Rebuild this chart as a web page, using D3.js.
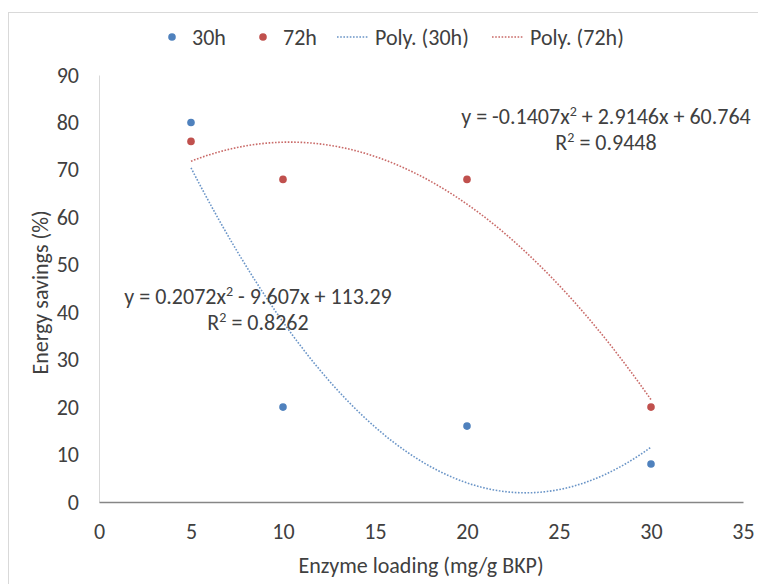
<!DOCTYPE html>
<html>
<head>
<meta charset="utf-8">
<script src="https://cdn.jsdelivr.net/npm/d3@7"></script>
<style>
  html, body { margin: 0; padding: 0; background: #fff; }
  svg { display: block; }
  text { font-family: Carlito, Calibri, "Open Sans", "Noto Sans", sans-serif; fill: #404040; }
</style>
</head>
<body>
<svg id="chart" width="758" height="584"></svg>
<script>
// Enzyme loading (mg/g BKP)
const loading = [5, 10, 20, 30];
// Energy savings (%) per hydrolysis time
const savings30h = [80, 20, 16, 8];
const savings72h = [76, 68, 68, 20];
// Quadratic trendline coefficients [a, b, c] for y = a x^2 + b x + c
const poly30h = [0.2072, -9.607, 113.29];
const poly72h = [-0.1407, 2.9146, 60.764];
const r2_30h = "0.8262";
const r2_72h = "0.9448";
// Axis ticks
const xTicks = [0, 5, 10, 15, 20, 25, 30, 35];
const yTicks = [0, 10, 20, 30, 40, 50, 60, 70, 80, 90];

const blue = "#4F81BD", red = "#C0504D";
const FONT = "Carlito, Calibri, 'Open Sans', 'Noto Sans', sans-serif";
const FS = "22px";

const svg = d3.select("#chart");
const x = d3.scaleLinear().domain([0, 35]).range([99, 743]);
const y = d3.scaleLinear().domain([0, 90]).range([502, 75]);

// chart frame
svg.append("rect").attr("x", 8.5).attr("y", 12.5).attr("width", 800).attr("height", 700)
  .attr("fill", "none").attr("stroke", "#d9d9d9").attr("stroke-width", 1);

// y axis
const yAxis = svg.append("g").attr("transform", `translate(${x(0)},0)`)
  .call(d3.axisLeft(y).tickValues(yTicks).tickSize(0).tickPadding(20));
yAxis.select(".domain").attr("stroke", "#d9d9d9").attr("stroke-width", 1);
yAxis.selectAll("text").style("font-size", FS).style("font-family", FONT).attr("fill", "#404040");

// x axis
const xAxis = svg.append("g").attr("transform", `translate(0,${y(0)})`)
  .call(d3.axisBottom(x).tickValues(xTicks).tickSize(0).tickPadding(21));
xAxis.select(".domain").attr("stroke", "#868686").attr("stroke-width", 1.5);
xAxis.selectAll("text").style("font-size", FS).style("font-family", FONT).attr("fill", "#404040");

// axis titles
svg.append("text").attr("x", x(17.5)).attr("y", 573).attr("text-anchor", "middle")
  .style("font-size", FS).text("Enzyme loading (mg/g BKP)");
svg.append("text").attr("transform", `translate(48,${y(45) + 4}) rotate(-90)`)
  .attr("text-anchor", "middle").style("font-size", FS).text("Energy savings (%)");

// trendlines from the stated coefficients, across the data range
function curve(coef) {
  const xs = d3.range(loading[0], loading[loading.length - 1] + 0.001, 0.25);
  return xs.map(v => [v, coef[0] * v * v + coef[1] * v + coef[2]]);
}
const line = d3.line().x(d => x(d[0])).y(d => y(d[1]));
[[poly30h, blue], [poly72h, red]].forEach(([coef, col]) => {
  svg.append("path").attr("d", line(curve(coef))).attr("fill", "none")
    .attr("stroke", col).attr("stroke-width", 1.6).attr("stroke-dasharray", "1.6 1.6")
    .attr("opacity", 0.85);
});

// data points
[[savings30h, blue], [savings72h, red]].forEach(([vals, col]) => {
  svg.append("g").selectAll("circle").data(loading.map((v, i) => [v, vals[i]]))
    .join("circle").attr("cx", d => x(d[0])).attr("cy", d => y(d[1])).attr("r", 3.8)
    .attr("fill", col);
});

// trendline equations
const fmt = v => (v < 0 ? "- " : "+ ") + Math.abs(v);
function equation(cx, cy, coef, r2) {
  const t = svg.append("text").attr("x", cx).attr("y", cy).attr("text-anchor", "middle")
    .style("font-size", FS).attr("fill", "#000");
  t.append("tspan").text("y = " + coef[0] + "x");
  t.append("tspan").attr("dy", -8).style("font-size", "14px").text("2");
  t.append("tspan").attr("dy", 8).text(" " + fmt(coef[1]) + "x " + fmt(coef[2]));
  const r = svg.append("text").attr("x", cx).attr("y", cy + 26).attr("text-anchor", "middle")
    .style("font-size", FS).attr("fill", "#000");
  r.append("tspan").text("R");
  r.append("tspan").attr("dy", -8).style("font-size", "14px").text("2");
  r.append("tspan").attr("dy", 8).text(" = " + r2);
}
equation(606, 124, poly72h, r2_72h);
equation(258, 304, poly30h, r2_30h);

// legend
const lg = svg.append("g").attr("transform", "translate(0,37)");
const items = [
  { type: "dot", col: blue, label: "30h", x: 172 },
  { type: "dot", col: red, label: "72h", x: 263 },
  { type: "line", col: blue, label: "Poly. (30h)", x: 337 },
  { type: "line", col: red, label: "Poly. (72h)", x: 492 }
];
items.forEach(it => {
  if (it.type === "dot") {
    lg.append("circle").attr("cx", it.x).attr("cy", 0).attr("r", 3.8).attr("fill", it.col);
    lg.append("text").attr("x", it.x + 20).attr("y", 8).style("font-size", FS).text(it.label);
  } else {
    lg.append("line").attr("x1", it.x).attr("x2", it.x + 31).attr("y1", 0).attr("y2", 0)
      .attr("stroke", it.col).attr("stroke-width", 1.6).attr("stroke-dasharray", "1.6 1.6").attr("opacity", 0.85);
    lg.append("text").attr("x", it.x + 38).attr("y", 8).style("font-size", FS).text(it.label);
  }
});
</script>
</body>
</html>
